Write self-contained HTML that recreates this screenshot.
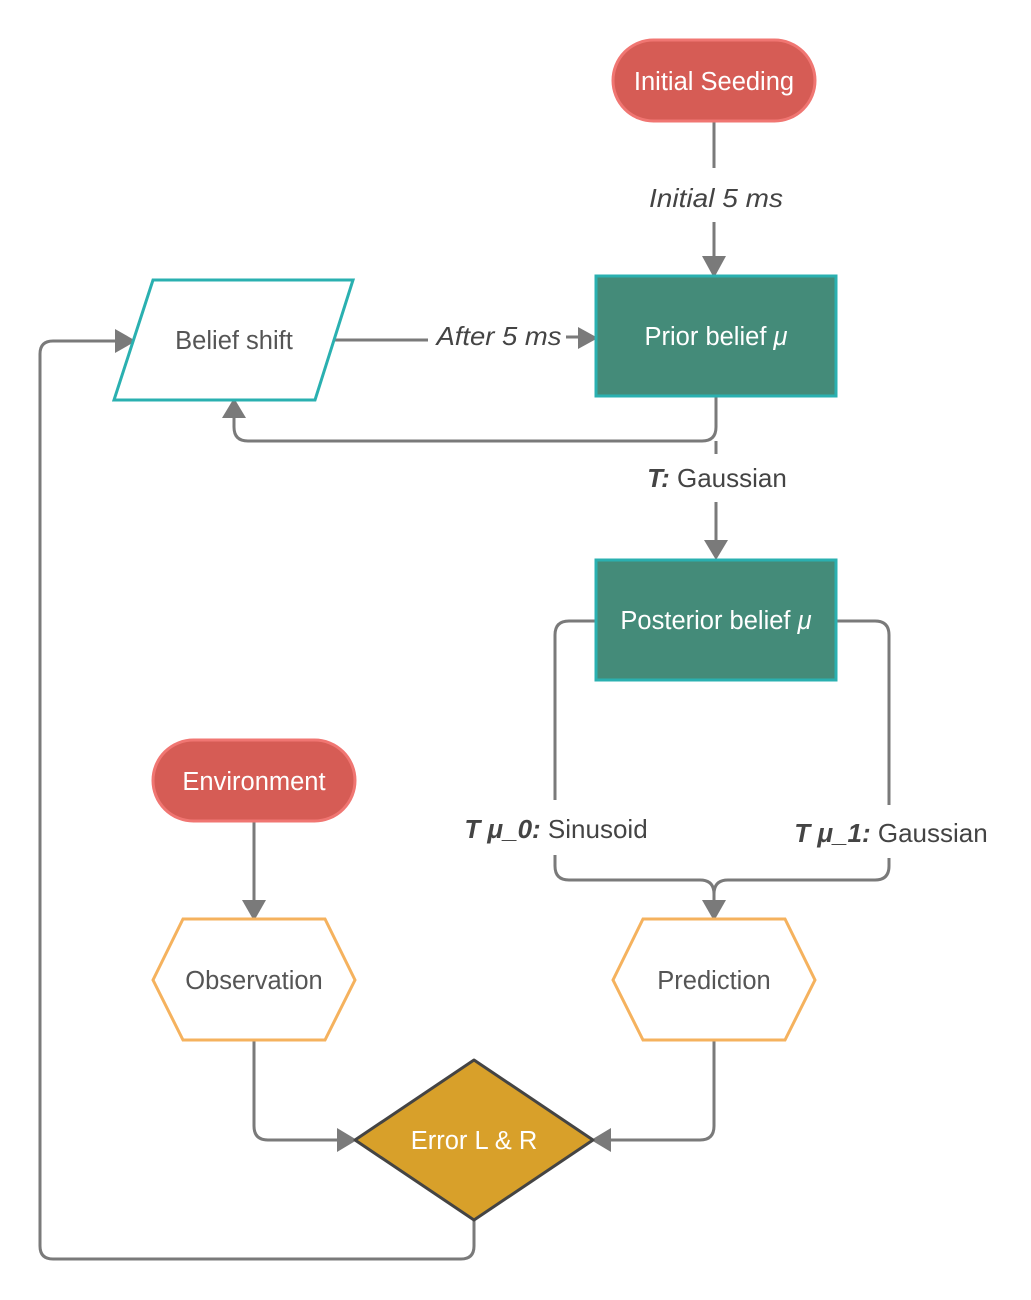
<!DOCTYPE html>
<html><head><meta charset="utf-8"><style>
html,body{margin:0;padding:0;background:#fff;}
svg{display:block;}
text{font-family:"Liberation Sans","DejaVu Sans",sans-serif;}
</style></head><body>
<svg width="1031" height="1300" viewBox="0 0 1031 1300" xmlns="http://www.w3.org/2000/svg">
<g fill="none" stroke="#7a7a7a" stroke-width="3" stroke-linejoin="round">
<path d="M714 121 V168"/>
<path d="M714 222 V262"/>
<path d="M335 340 H428"/>
<path d="M566 337 H582"/>
<path d="M716 396 V427 Q716 441 702 441 H248 Q234 441 234 427 V414"/>
<path d="M716 441 V454"/>
<path d="M716 502 V546"/>
<path d="M596 621 H569 Q555 621 555 635 V800"/>
<path d="M555 855 V866 Q555 880 569 880 H700 Q714 880 714 894 V904"/>
<path d="M836 621 H875 Q889 621 889 635 V805"/>
<path d="M889 858 V866 Q889 880 875 880 H728 Q714 880 714 894"/>
<path d="M254 821 V904"/>
<path d="M254 1040 V1126 Q254 1140 268 1140 H341"/>
<path d="M714 1040 V1126 Q714 1140 700 1140 H607"/>
<path d="M474 1220 V1246 Q474 1259 461 1259 H53 Q40 1259 40 1246 V354 Q40 341 53 341 H120"/>
</g>
<g fill="#7a7a7a">
<polygon points="702,256 726,256 714,278"/>
<polygon points="578,327 578,349 598,338"/>
<polygon points="704,540 728,540 716,560"/>
<polygon points="222,418 246,418 234,398"/>
<polygon points="702,900 726,900 714,921"/>
<polygon points="242,900 266,900 254,921"/>
<polygon points="337,1128 337,1152 357,1140"/>
<polygon points="611,1128 611,1152 591,1140"/>
<polygon points="115,329 115,353 136,341"/>
</g>
<rect x="613" y="40" width="202" height="81" rx="40.5" fill="#d65c55" stroke="#f07672" stroke-width="3"/>
<text x="714" y="90" font-size="25.5" fill="#fff" text-anchor="middle">Initial Seeding</text>
<rect x="153" y="740" width="202" height="81" rx="40.5" fill="#d65c55" stroke="#f07672" stroke-width="3"/>
<text x="254" y="790" font-size="25.5" fill="#fff" text-anchor="middle">Environment</text>
<rect x="596" y="276" width="240" height="120" fill="#448b79" stroke="#2ab0b0" stroke-width="3"/>
<text x="716" y="345" font-size="25.5" fill="#fff" text-anchor="middle">Prior belief <tspan font-style="italic">μ</tspan></text>
<rect x="596" y="560" width="240" height="120" fill="#448b79" stroke="#2ab0b0" stroke-width="3"/>
<text x="716" y="629" font-size="25.5" fill="#fff" text-anchor="middle">Posterior belief <tspan font-style="italic">μ</tspan></text>
<polygon points="153,280 353,280 315,400 114,400" fill="#fff" stroke="#2ab0b0" stroke-width="3"/>
<text x="234" y="349" font-size="25.5" fill="#555" text-anchor="middle">Belief shift</text>
<polygon points="153,980 183,919 325,919 355,980 325,1040 183,1040" fill="#fff" stroke="#f5b25e" stroke-width="3"/>
<text x="254" y="989" font-size="25.5" fill="#555" text-anchor="middle">Observation</text>
<polygon points="613,980 643,919 785,919 815,980 785,1040 643,1040" fill="#fff" stroke="#f5b25e" stroke-width="3"/>
<text x="714" y="989" font-size="25.5" fill="#555" text-anchor="middle">Prediction</text>
<polygon points="474,1060 593,1140 474,1220 355,1140" fill="#d8a02a" stroke="#444" stroke-width="3" stroke-linejoin="round"/>
<text x="474" y="1149" font-size="25.5" fill="#fff" text-anchor="middle">Error L &amp; R</text>
<g font-size="26" fill="#444" text-anchor="middle">
<text x="716" y="207" font-style="italic" textLength="134" lengthAdjust="spacingAndGlyphs">Initial 5 ms</text>
<text x="499" y="345" font-style="italic" textLength="125" lengthAdjust="spacingAndGlyphs">After 5 ms</text>
<text x="717" y="487"><tspan font-style="italic" font-weight="bold">T:</tspan> Gaussian</text>
<text x="556" y="838"><tspan font-style="italic" font-weight="bold">T μ_0:</tspan> Sinusoid</text>
<text x="891" y="842"><tspan font-style="italic" font-weight="bold">T μ_1:</tspan> Gaussian</text>
</g>
</svg>
</body></html>
